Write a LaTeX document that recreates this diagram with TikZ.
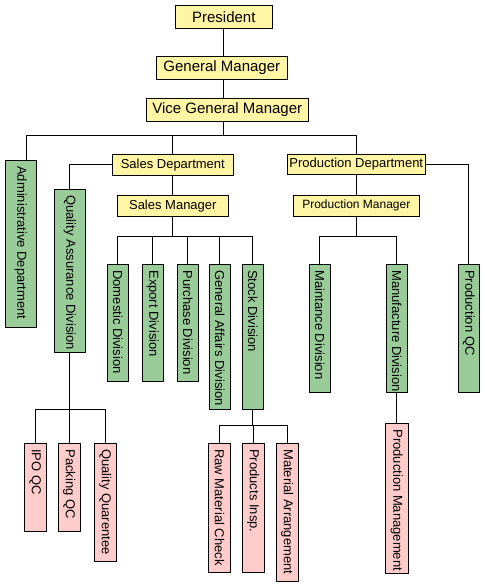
\documentclass[tikz,border=0pt]{standalone}
\usepackage{fontspec}
\setmainfont{Liberation Sans}
\usetikzlibrary{positioning,calc}
\definecolor{boxyellow}{HTML}{FFF5A5}
\definecolor{divgreen}{HTML}{99CC99}
\definecolor{qcpink}{HTML}{FFCCCC}
\tikzset{
  head/.style={draw,fill=boxyellow,inner sep=0pt,font=\fontsize{15}{17}\selectfont},
  dept/.style={head,font=\fontsize{13}{15}\selectfont},
  division/.style 2 args={draw,fill=divgreen,rotate=-90,inner xsep=6pt,inner ysep=0pt,
    minimum height=#2pt,font=\fontsize{13}{15}\selectfont,
    execute at begin node={\hbox to \dimexpr#1pt-12pt\relax\bgroup},
    execute at end node={\hss\egroup}},
  section/.style 2 args={division={#1}{#2},fill=qcpink}
}
\begin{document}
\begin{tikzpicture}[x=1pt,y=-1pt,line width=1pt]
\useasboundingbox (0,0) rectangle (485,587);
% management
\node[head,minimum width=97pt,minimum height=23pt] (pres) at (223.8,16.8) {President};
\node[head,minimum width=131pt,minimum height=23pt] (gm) at (221.8,67.8) {General Manager};
\node[head,minimum width=162pt,minimum height=23pt] (vgm) at (227.3,109.8) {Vice General Manager};
\draw (pres.south) -- (pres.south |- gm.north);
\draw (gm.south -| pres.south) -- (vgm.north -| pres.south);
\draw (vgm.south -| pres.south) -- ++(0,13.4) coordinate (vbus);

% departments
\node[division={167}{31}] (adm) at (20.8,243.8) {Administrative Department};
\node[dept,minimum width=121pt,minimum height=21pt] (sales) at (172.8,164.8) {Sales Department};
\node[dept,minimum width=138pt,minimum height=20pt] (prod) at (356.3,164.3) {Production Department};
\draw ($(adm.west)+(6,0)$) |- (vbus) -| (prod.north);
\draw (sales.north) -- (sales.north |- vbus);

% sales side
\node[division={162.7}{31}] (qa) at (69.8,270.7) {Quality Assurance Division};
\node[dept,minimum width=111pt,minimum height=21pt] (smgr) at (172.8,205.8) {Sales Manager};
\draw (sales.west) -| (qa.west);
\draw (sales.south) -- (smgr.north);
\node[division={116.7}{21}] (dom) at (117.8,322.7) {Domestic Division};
\node[division={116.7}{21}] (exp) at (152.8,322.7) {Export Division};
\node[division={116.7}{21}] (pur) at (187.8,322.7) {Purchase Division};
\node[division={145}{21}] (gen) at (219.8,336.8) {General Affairs Division};
\node[division={145}{21}] (stock) at (252.8,336.8) {Stock Division};
\draw (smgr.south) -- ++(0,20) coordinate (sbus);
\draw (dom.west) |- (sbus) -| (stock.west);
\foreach \n in {exp,pur,gen}
  \draw (\n.west) -- (\n.west |- sbus);

% production side
\node[dept,font=\fontsize{12}{14}\selectfont,minimum width=126pt,minimum height=21pt] (pmgr) at (356.3,205.8) {Production Manager};
\draw (prod.south) -- (pmgr.north);
\node[division={128}{21}] (maint) at (319.8,328.3) {Maintance Division};
\node[division={128}{21}] (manu) at (396.8,328.3) {Manufacture Division};
\node[division={128}{21}] (pqc) at (468.8,328.3) {Production QC};
\draw (pmgr.south) -- ++(0,20) coordinate (pbus);
\draw (maint.west) |- (pbus) -| (manu.west);
\draw (prod.east) -| (pqc.west);

% sections
\node[section={87.7}{22}] (ipo) at (35.3,487.2) {IPO QC};
\node[section={87.7}{22}] (pack) at (69.3,487.2) {Packing QC};
\node[section={118}{22}] (qq) at (105.3,502.3) {Quality Quarentee};
\draw (qa.east) -- ++(0,57.3) coordinate (qbus);
\draw (ipo.west) |- (qbus) -| (qq.west);
\draw (pack.west) -- (pack.west |- qbus);

\node[section={129}{22.4}] (raw) at (219.5,507.8) {Raw Material Check};
\node[section={129}{22}] (insp) at (253.3,507.8) {Products Insp.};
\node[section={138}{22}] (marr) at (287.3,512.3) {Material Arrangement};
\draw (stock.east) -- ++(0,15.7) coordinate (kbus);
\draw (raw.west) |- (kbus) -| (marr.west);
\draw (insp.west) -- (insp.west |- kbus);

\node[section={149.7}{22.4}] (pm) at (396.8,498.2) {Production Management};
\draw (manu.east) -- (pm.west);
\end{tikzpicture}
\end{document}
